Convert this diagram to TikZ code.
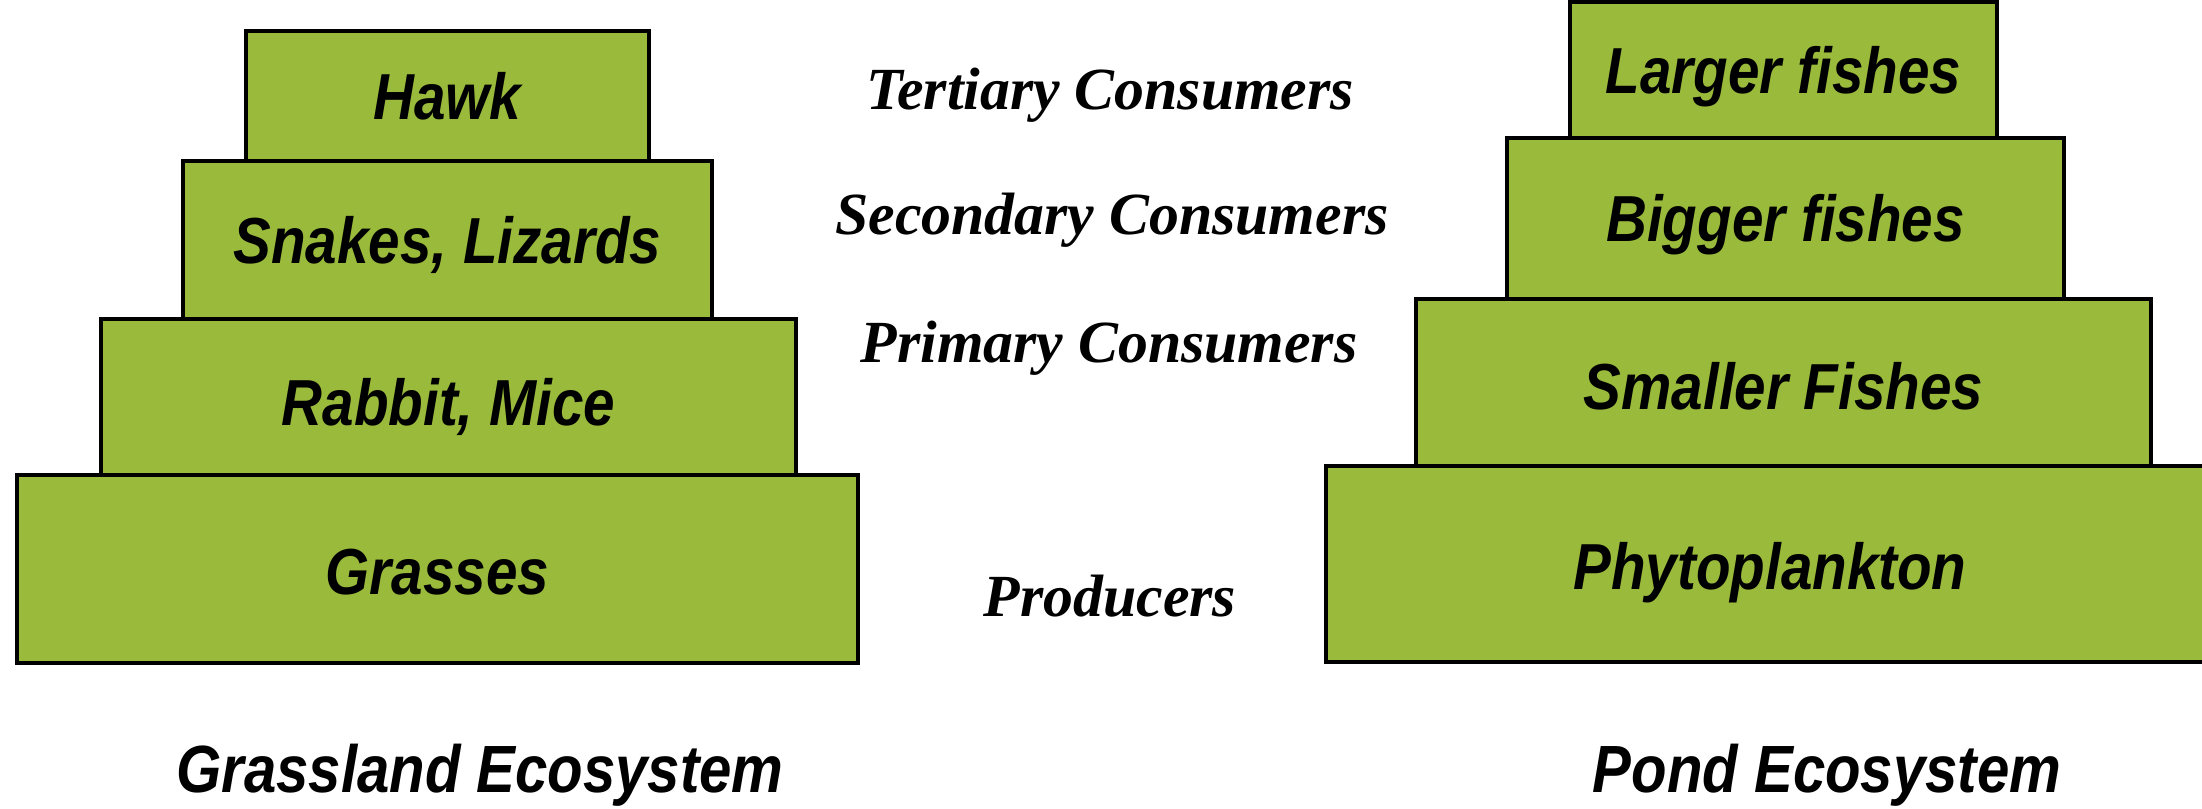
\documentclass[tikz,border=0pt]{standalone}
\usepackage{fontspec}
\usetikzlibrary{fit}
\newfontfamily\boxfont[FakeStretch=0.87]{Liberation Sans}
\newfontfamily\levelfont{Liberation Serif}
\definecolor{grass}{RGB}{154,186,60}
\begin{document}
\begin{tikzpicture}[x=0.01cm,y=-0.01cm,
  tier/.style={draw=black, line width=1.3pt, fill=grass, inner sep=0pt},
  tierlabel/.style={font=\fontsize{18.5}{20}\boxfont\bfseries\itshape, inner sep=0pt,
    text height=13.3pt, text depth=0pt, anchor=center},
  level/.style={font=\fontsize{17}{19}\levelfont\bfseries\itshape, anchor=base, inner sep=0pt},
  eco/.style={font=\fontsize{19}{21}\boxfont\bfseries\itshape, anchor=base, inner sep=0pt}]
\useasboundingbox (0,0) rectangle (2202,809);

% Grassland pyramid
\node[tier, fit={(17,475)(858,663)}] (grasses) {};
\node[tier, fit={(101,319)(796,475)}] (rabbit) {};
\node[tier, fit={(183,161)(712,319)}] (snakes) {};
\node[tier, fit={(246,31)(649,161)}] (hawk) {};
\node[tierlabel] (grassesT) at ([yshift=-0.5pt]grasses.center) {Grasses};
\node[tierlabel] (rabbitT) at ([yshift=-1.5pt]rabbit.center) {Rabbit, Mice};
\node[tierlabel] (snakesT) at (snakes.center) {Snakes, Lizards};
\node[tierlabel] (hawkT) at (hawk.center) {Hawk};

% Pond pyramid
\node[tier, fit={(1326,466)(2214,662)}] (phyto) {};
\node[tier, fit={(1416,299)(2151,466)}] (smaller) {};
\node[tier, fit={(1507,138)(2064,299)}] (bigger) {};
\node[tier, fit={(1570,2)(1997,138)}] (larger) {};
\node[tierlabel] (phytoT) at ([yshift=-0.5pt]phyto.center) {Phytoplankton};
\node[tierlabel] (smallerT) at ([yshift=-1pt]smaller.center) {Smaller Fishes};
\node[tierlabel] (biggerT) at (bigger.center) {Bigger fishes};
\node[tierlabel] (largerT) at (larger.center) {Larger fishes};

% Trophic levels
\node[level] (tert) at (1110,109) {Tertiary Consumers};
\node[level] (sec) at (1112,234) {Secondary Consumers};
\node[level] (prim) at (1109,362) {Primary Consumers};
\node[level] (prod) at (1110,616) {Producers};

% Titles
\node[eco] (gtitle) at (480,792) {Grassland Ecosystem};
\node[eco] (ptitle) at (1827,792) {Pond Ecosystem};
\end{tikzpicture}
\end{document}
